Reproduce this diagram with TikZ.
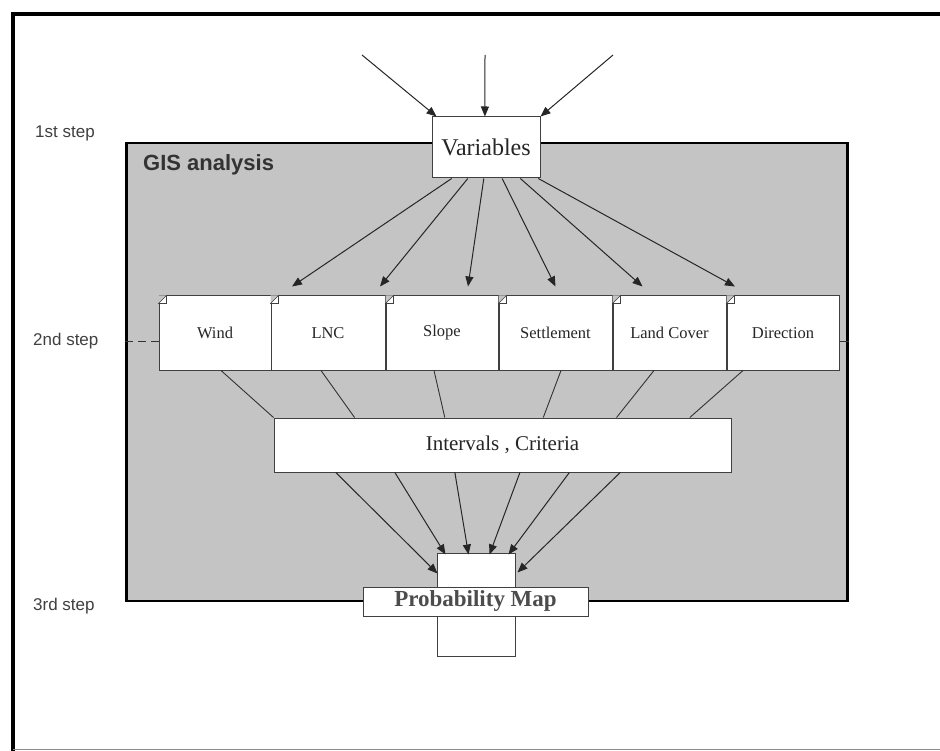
\documentclass[tikz,border=0pt]{standalone}
\usepackage{fontspec}
\setmainfont{Liberation Serif}
\newfontfamily\arialfont{Liberation Sans}
\usetikzlibrary{calc,arrows.meta}
\definecolor{gisgray}{RGB}{196,196,196}
\begin{document}
\begin{tikzpicture}[x=1pt,y=-1pt,
  box/.style={draw=black!75,line width=1pt,fill=white,inner sep=0pt,text=black!85},
  varbox/.style={box,minimum width=108pt,minimum height=61pt,font=\fontsize{24}{26}\selectfont},
  layer/.style={box,minimum height=74pt,font=\fontsize{16.5}{18}\selectfont},
  arr/.style={draw=black!85,line width=1pt,-{Triangle[length=10pt,width=8pt]}},
  link/.style={draw=black!80,line width=0.9pt},
  steplabel/.style={font=\arialfont\fontsize{17}{19}\selectfont,text=black!75,inner sep=0pt,anchor=west},
  fold/.style={draw=black!75,line width=0.6pt},
]
\useasboundingbox (0,0) rectangle (940,751);
\fill[white] (0,0) rectangle (940,751);
% outer frame
\draw[line width=3.5pt] (940,14) -- (13,14) -- (13,751);
\draw[black!45,line width=1pt] (13,749) -- (940,749);

% GIS analysis area
\node[draw=black,line width=2.8pt,fill=gisgray,minimum width=721pt,minimum height=458pt,inner sep=0pt] (gis) at (487,372) {};
\node[font=\arialfont\bfseries\fontsize{22}{24}\selectfont,text=black!80,anchor=west,inner sep=0pt] (gistitle) at (143,165) {GIS analysis};

% step labels
\node[steplabel] (step1) at (35,133) {1st step};
\node[steplabel] (step2) at (33,341) {2nd step};
\node[steplabel] (step3) at (33,606) {3rd step};

% nodes
\node[varbox] (var) at (486,147.5) {Variables};
\node[layer,minimum width=112pt] (wind) at (215,333) {\raisebox{-2pt}{Wind}};
\node[layer,minimum width=114pt] (lnc) at (328,333) {\raisebox{-2pt}{LNC}};
\node[layer,minimum width=112pt] (slope) at (442,333) {\raisebox{-2pt}{Slope}};
\node[layer,minimum width=113pt] (settle) at (555.5,333) {\raisebox{-1pt}{Settlement}};
\node[layer,minimum width=113pt] (land) at (669.5,333) {\raisebox{-3pt}{Land Cover}};
\node[layer,minimum width=112pt] (dir) at (783,333) {\raisebox{-4pt}{Direction}};
\node[box,minimum width=457pt,minimum height=54pt,font=\fontsize{21}{23}\selectfont] (int) at (502.5,445) {\raisebox{-2pt}{Intervals , Criteria}};
\node[box,minimum width=78pt,minimum height=103pt] (map) at (476,604.5) {};
\node[box,minimum width=225pt,minimum height=29pt,font=\bfseries\fontsize{23}{25}\selectfont,text=black!70] (prob) at (475.5,601.5) {Probability Map};

% folded corners
\foreach \n in {wind,lnc,slope,settle,land,dir}{
  \fill[gisgray] (\n.north west) -- ++(8,0) -- ++(-8,8) -- cycle;
  \draw[fold] ($(\n.north west)+(0,8)$) -- ++(8,-8) -- ++(0,8) -- cycle;
}

% dashed step link
\draw[dash pattern=on 8pt off 5pt,line width=0.9pt,black!80] (gis.west |- step2) -- (wind.west |- step2);
\draw[link] (dir.east |- step2) -- (gis.east |- step2);

% incoming arrows
\coordinate (in1) at (362,55);
\coordinate (in2) at (485,55);
\coordinate (in3) at (613,55);
\draw[arr] (in1) -- ($(var.north west)!0.046!(var.north east)$);
\draw[arr] (in2) -- ($(var.north west)!0.49!(var.north east)$);
\draw[arr] (in3) -- ($(var.north west)!1.0!(var.north east)$);

% variables to layers
\draw[arr] ($(var.south west)!0.185!(var.south east)$) -- ($(wind.north)+(77,-9)$);
\draw[arr] ($(var.south west)!0.333!(var.south east)$) -- ($(lnc.north)+(52,-9)$);
\draw[arr] ($(var.south west)!0.48!(var.south east)$) -- ($(slope.north)+(26,-9)$);
\draw[arr] ($(var.south west)!0.648!(var.south east)$) -- ($(settle.north)+(0,-9)$);
\draw[arr] ($(var.south west)!0.815!(var.south east)$) -- ($(land.north)+(-27,-9)$);
\draw[arr] ($(var.south west)!0.98!(var.south east)$) -- ($(dir.north)+(-48,-9)$);

% layers to intervals
\draw[link] ($(wind.south)+(6,0)$) -- ($(int.north west)!0.0!(int.north east)$);
\draw[link] ($(lnc.south)+(-7,0)$) -- ($(int.north west)!0.177!(int.north east)$);
\draw[link] ($(slope.south)+(-8,0)$) -- ($(int.north west)!0.374!(int.north east)$);
\draw[link] ($(settle.south)+(5.5,0)$) -- ($(int.north west)!0.589!(int.north east)$);
\draw[link] ($(land.south)+(-15.5,0)$) -- ($(int.north west)!0.749!(int.north east)$);
\draw[link] ($(dir.south)+(-40,0)$) -- ($(int.north west)!0.909!(int.north east)$);

% intervals to map
\draw[arr] ($(int.south west)!0.136!(int.south east)$) -- ($(map.north west)+(1,21)$);
\draw[arr] ($(int.south west)!0.265!(int.south east)$) -- ($(map.north west)+(9,2)$);
\draw[arr] ($(int.south west)!0.396!(int.south east)$) -- ($(map.north west)+(32,2)$);
\draw[arr] ($(int.south west)!0.538!(int.south east)$) -- ($(map.north west)+(53,2)$);
\draw[arr] ($(int.south west)!0.646!(int.south east)$) -- ($(map.north west)+(72,2)$);
\draw[arr] ($(int.south west)!0.757!(int.south east)$) -- ($(map.north east)+(2,20)$);
\end{tikzpicture}
\end{document}
